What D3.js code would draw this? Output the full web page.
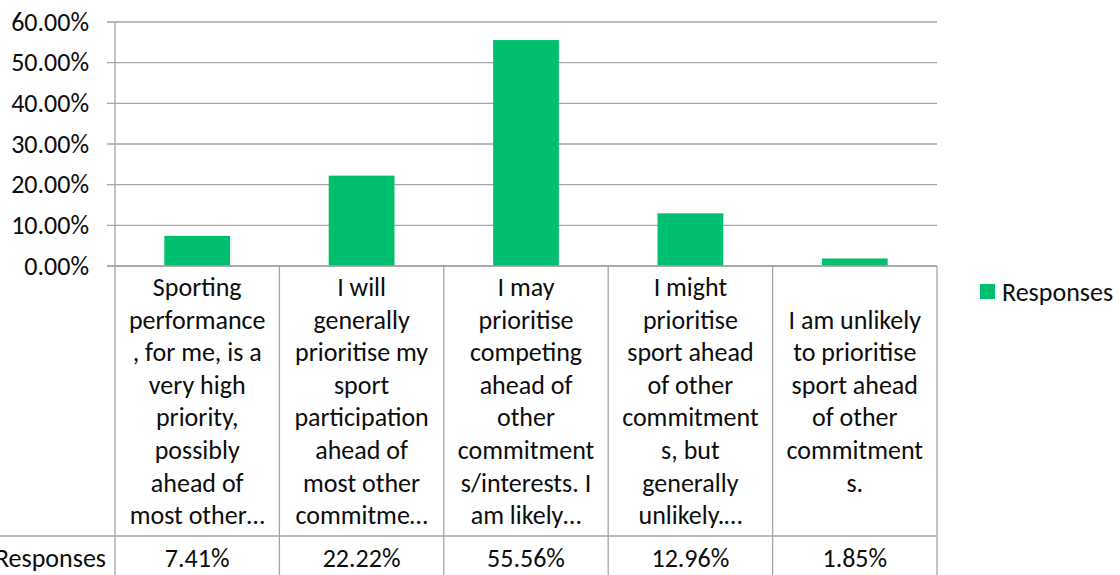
<!DOCTYPE html>
<html>
<head>
<meta charset="utf-8">
<script src="https://cdn.jsdelivr.net/npm/d3@7"></script>
<style>
  body { margin: 0; background: #fff; }
  svg { display: block; font-family: Calibri, Carlito, Lato, sans-serif; }
</style>
</head>
<body>
<div id="visContainer"></div>
<script>
// chart data
const categories = [
  ["Sporting", "performance", ", for me, is a", "very high", "priority,", "possibly", "ahead of", "most other…"],
  ["I will", "generally", "prioritise my", "sport", "participation", "ahead of", "most other", "commitme…"],
  ["I may", "prioritise", "competing", "ahead of", "other", "commitment", "s/interests. I", "am likely…"],
  ["I might", "prioritise", "sport ahead", "of other", "commitment", "s, but", "generally", "unlikely.…"],
  ["I am unlikely", "to prioritise", "sport ahead", "of other", "commitment", "s."]
];
const responses = [0.0741, 0.2222, 0.5556, 0.1296, 0.0185];
const seriesName = "Responses";
const yTicks = [0, 0.1, 0.2, 0.3, 0.4, 0.5, 0.6];

const width = 1120;
const height = 575;
const margin = { top: 22, left: 115, right: 183 };
const axisY = 266;       // bottom of plot / top of data table
const rowLine = 536;     // separator between labels and values
const lineHeight = 32.6;
const fontSize = 26;
const gridColor = "#a6a6a6";
const barColor = "#00bf6f";
const textColor = "#0d0d0d";

const svg = d3
  .select("#visContainer")
  .append("svg")
  .attr("width", width)
  .attr("height", height);

const idx = categories.map((d, i) => i);

const xScale = d3
  .scaleBand()
  .domain(idx)
  .range([margin.left, width - margin.right]);

const yScale = d3
  .scaleLinear()
  .domain([0, 0.6])
  .range([axisY, margin.top]);

// gridlines
svg.append("g")
  .selectAll("line")
  .data(yTicks)
  .join("line")
  .attr("x1", margin.left - 8)
  .attr("x2", width - margin.right)
  .attr("y1", (d) => yScale(d))
  .attr("y2", (d) => yScale(d))
  .attr("stroke", gridColor)
  .attr("stroke-width", 1.3);

// y axis labels
const yAxis = svg.append("g")
  .attr("transform", `translate(${margin.left}, 0)`)
  .call(d3.axisLeft(yScale).tickValues(yTicks).tickFormat(d3.format(".2%")).tickSize(0).tickPadding(26));
yAxis.select(".domain").remove();
yAxis.selectAll("text")
  .attr("font-size", fontSize)
  .attr("font-family", "Calibri, Carlito, Lato, sans-serif")
  .attr("fill", textColor);

// bars
svg.selectAll("rect.bar")
  .data(responses)
  .join("rect")
  .attr("class", "bar")
  .attr("x", (d, i) => xScale(i) + xScale.bandwidth() * 0.3)
  .attr("y", (d) => yScale(d))
  .attr("width", xScale.bandwidth() * 0.4)
  .attr("height", (d) => axisY - yScale(d))
  .attr("fill", barColor);

// data table borders
const table = svg.append("g")
  .attr("stroke", gridColor)
  .attr("stroke-width", 1.3);

table.selectAll("line.col")
  .data(idx.concat([idx.length]))
  .join("line")
  .attr("class", "col")
  .attr("x1", (d) => d < idx.length ? xScale(d) : width - margin.right)
  .attr("x2", (d) => d < idx.length ? xScale(d) : width - margin.right)
  .attr("y1", (d) => d === 0 ? margin.top : axisY)
  .attr("y2", height);

table.append("line")
  .attr("x1", margin.left - 8)
  .attr("x2", width - margin.right)
  .attr("y1", axisY)
  .attr("y2", axisY);

table.append("line")
  .attr("x1", 0)
  .attr("x2", width - margin.right)
  .attr("y1", rowLine)
  .attr("y2", rowLine);

// category labels, centred in each cell
const cellMid = (axisY + rowLine) / 2;
svg.append("g")
  .selectAll("text")
  .data(categories)
  .join("text")
  .attr("text-anchor", "middle")
  .attr("font-size", fontSize)
  .attr("fill", textColor)
  .attr("x", (d, i) => xScale(i) + xScale.bandwidth() / 2)
  .attr("y", (d) => cellMid - (d.length - 1) * lineHeight / 2)
  .each(function (lines, i) {
    d3.select(this)
      .selectAll("tspan")
      .data(lines)
      .join("tspan")
      .attr("x", xScale(i) + xScale.bandwidth() / 2)
      .attr("dy", (l, j) => j === 0 ? "0.35em" : lineHeight)
      .text((l) => l);
  });

// values row
const valueMid = 558;
svg.append("g")
  .selectAll("text")
  .data(responses)
  .join("text")
  .attr("text-anchor", "middle")
  .attr("font-size", fontSize)
  .attr("fill", textColor)
  .attr("x", (d, i) => xScale(i) + xScale.bandwidth() / 2)
  .attr("y", valueMid)
  .attr("dy", "0.35em")
  .text((d) => d3.format(".2%")(d));

svg.append("text")
  .attr("text-anchor", "end")
  .attr("font-size", fontSize)
  .attr("fill", textColor)
  .attr("x", 106)
  .attr("y", valueMid)
  .attr("dy", "0.35em")
  .text(seriesName);

// legend
const legend = svg.append("g").attr("transform", "translate(980, 284)");
legend.append("rect")
  .attr("width", 15)
  .attr("height", 15)
  .attr("fill", barColor);
legend.append("text")
  .attr("x", 22)
  .attr("y", 7.5)
  .attr("dy", "0.35em")
  .attr("font-size", fontSize)
  .attr("fill", textColor)
  .text(seriesName);
</script>
</body>
</html>
